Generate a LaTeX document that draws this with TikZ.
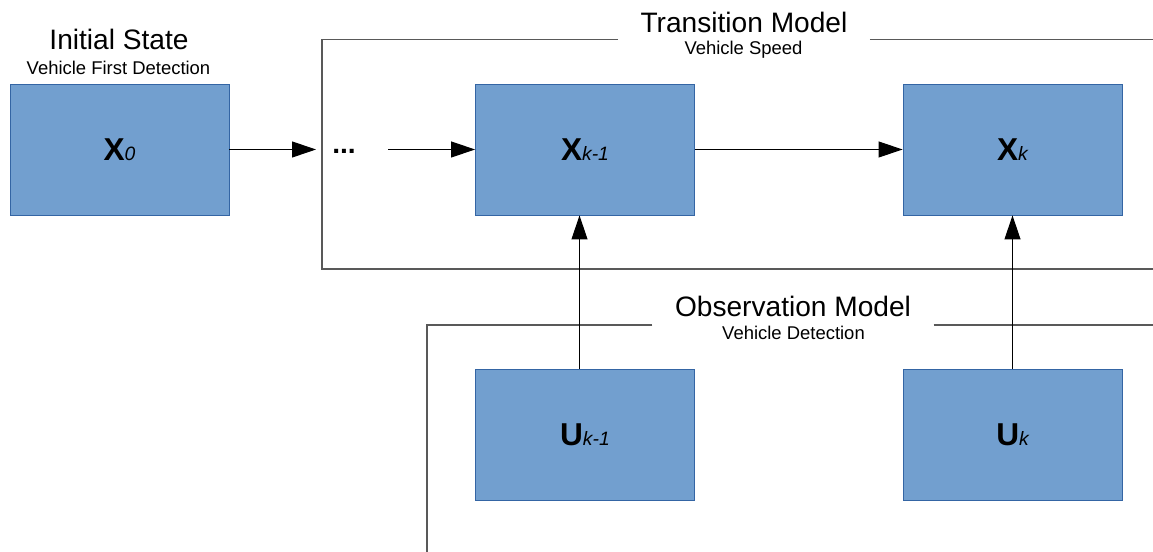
\documentclass[tikz,border=0pt]{standalone}
\usepackage{fontspec}
\setmainfont{Liberation Sans}
\usetikzlibrary{arrows.meta,positioning}
\definecolor{boxblue}{HTML}{729FCF}
\definecolor{boxedge}{HTML}{3465A4}

\newcommand{\statelbl}[2]{{\fontsize{18}{20}\selectfont\bfseries #1}{\fontsize{11}{12}\selectfont\itshape #2}}

\begin{document}
\begin{tikzpicture}[>={Triangle[length=4.8mm,width=3.2mm]},node distance=9.31cm,
    line width=0.6pt,
    main node/.style={rectangle,fill=boxblue,draw=boxedge,line width=0.5pt,
      minimum width=4.38cm,minimum height=2.62cm,inner sep=0pt},
    title/.style={font=\fontsize{16}{19}\selectfont,inner xsep=0.44cm,inner ysep=0pt,anchor=base},
    subtitle/.style={font=\fontsize{10.5}{12}\selectfont,inner sep=0pt,anchor=base},
    frame/.style={draw=black!65,line width=0.75pt}]

    \useasboundingbox (0,0) rectangle (23.06,-11.04);

    \node[main node] (X0) at (2.39,-2.99) {\statelbl{X}{0}};
    \node[main node] (Xprev) [right of=X0] {\statelbl{X}{k-1}};
    \node[main node] (Xk) [node distance=8.55cm, right of=Xprev] {\statelbl{X}{k}};
    \node[main node] (Uprev) [node distance=5.7cm, below of=Xprev] {\statelbl{U}{k-1}};
    \node[main node] (Uk) [node distance=5.7cm, below of=Xk] {\statelbl{U}{k}};

    \node[title] (init) at (2.38,-1.0) {Initial State};
    \node[subtitle] (initsub) at (2.37,-1.5) {Vehicle First Detection};
    \node[title] (trans) at (14.88,-0.66) {Transition Model};
    \node[subtitle] (transsub) at (14.87,-1.1) {Vehicle Speed};
    \node[title] (obs) at (15.86,-6.34) {Observation Model};
    \node[subtitle] (obssub) at (15.87,-6.8) {Vehicle Detection};

    \node[font=\fontsize{16}{19}\selectfont\bfseries,anchor=base,inner sep=0pt] (dots) at (6.88,-3.07) {...};

    % frame corners
    \coordinate (tcorner) at (6.44,-0.79);
    \coordinate (bcorner) at (6.44,-5.38);
    \coordinate (tright) at (23.06,-0.79);
    \coordinate (bright) at (23.06,-5.38);
    \coordinate (ocorner) at (8.54,-6.5);
    \coordinate (obottom) at (8.54,-11.04);
    \coordinate (oright) at (23.06,-6.5);

    \draw[frame] (trans.west |- tcorner) -- (tcorner) -- (bcorner) -- (bright);
    \draw[frame] (trans.east |- tcorner) -- (tright);
    \draw[frame] (obs.west |- ocorner) -- (ocorner) -- (obottom);
    \draw[frame] (obs.east |- ocorner) -- (oright);

    \coordinate (tin) at (6.32,-2.99);
    \coordinate (tout) at (7.76,-2.99);

    \path[->]
      (X0) edge (tin)
      (tout) edge (Xprev)
      (Xprev) edge (Xk)
      (Uk) edge (Xk)
      ;
    \draw[->] ([xshift=-1.1mm]Uprev.north) -- ([xshift=-1.1mm]Xprev.south);
\end{tikzpicture}
\end{document}
